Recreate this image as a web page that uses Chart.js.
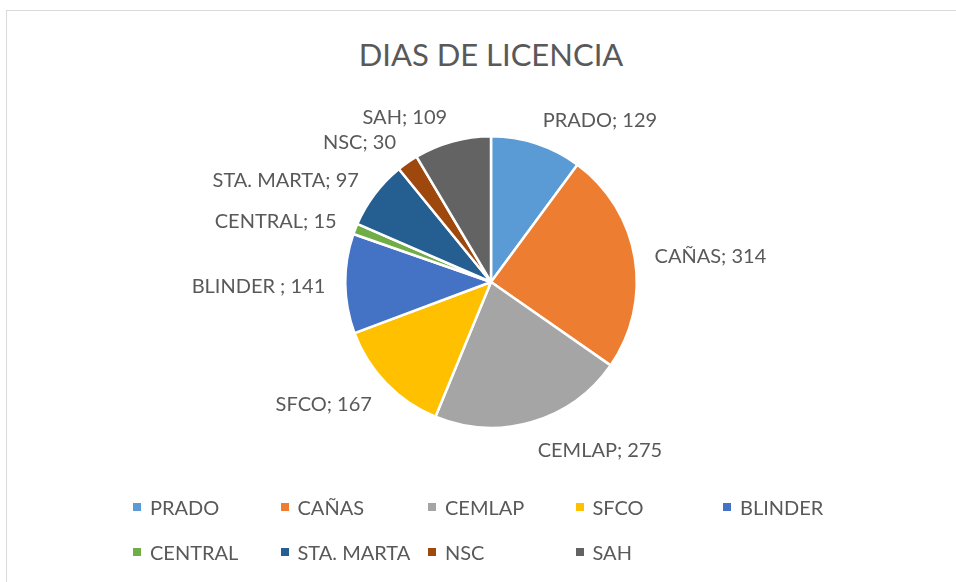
<!DOCTYPE html>
<html>
<head>
<meta charset="utf-8">
<script src="https://cdn.jsdelivr.net/npm/chart.js@4.4.1/dist/chart.umd.min.js"></script>
<style>
  html,body{margin:0;padding:0;background:#fff;}
  body{width:956px;height:582px;position:relative;overflow:hidden;font-family:Lato,"Liberation Sans",sans-serif;color:#595959;}
  #frame{position:absolute;left:6px;top:10px;width:1200px;height:1200px;border:1px solid #d9d9d9;box-sizing:border-box;}
  #title{position:absolute;left:0;top:33px;width:982px;text-align:center;font-size:31px;line-height:42px;color:#595959;}
  #wrap{position:absolute;left:0;top:0;width:956px;height:582px;}
  #legend{position:absolute;left:133px;top:494px;display:grid;grid-template-columns:repeat(5,147.5px);grid-auto-rows:45px;font-size:20px;}
  .li{display:flex;align-items:center;height:26px;white-space:nowrap;}
  .mk{width:8px;height:8px;margin-right:9px;flex:none;}
</style>
</head>
<body>
<div id="frame"></div>
<div id="title">DIAS DE LICENCIA</div>
<div id="wrap"><canvas id="c" width="956" height="582"></canvas></div>
<div id="legend"></div>
<script>
const categories = ["PRADO","CAÑAS","CEMLAP","SFCO","BLINDER ","CENTRAL","STA. MARTA","NSC","SAH"];
const legendNames = ["PRADO","CAÑAS","CEMLAP","SFCO","BLINDER","CENTRAL","STA. MARTA","NSC","SAH"];
const values = [129,314,275,167,141,15,97,30,109];
const colors = ["#5B9BD5","#ED7D31","#A5A5A5","#FFC000","#4472C4","#70AD47","#255E91","#9E480E","#636363"];

const labelPlugin = {
  id:'outsideLabels',
  afterDatasetsDraw(chart){
    const ctx = chart.ctx;
    const meta = chart.getDatasetMeta(0);
    ctx.save();
    ctx.font = '20px Lato, "Liberation Sans", sans-serif';
    ctx.fillStyle = '#595959';
    ctx.textBaseline = 'middle';
    meta.data.forEach((arc,i)=>{
      const p = arc.getProps(['x','y','startAngle','endAngle','outerRadius'],true);
      const mid = (p.startAngle+p.endAngle)/2;
      const r = p.outerRadius + 20;
      const cx = Math.cos(mid), sy = Math.sin(mid);
      const x = p.x + cx*r;
      const y = p.y + sy*r + sy*7 + 2.5;
      ctx.textAlign = cx >= 0 ? 'left' : 'right';
      ctx.fillText(categories[i] + '; ' + values[i], x, y);
    });
    ctx.restore();
  }
};

new Chart(document.getElementById('c'),{
  type:'pie',
  data:{labels:categories,datasets:[{data:values,backgroundColor:colors,borderColor:'#ffffff',borderWidth:2.5}]},
  options:{
    responsive:false,
    animation:false,
    layout:{padding:{top:135,bottom:153,left:200,right:174}},
    plugins:{legend:{display:false},title:{display:false},tooltip:{enabled:false}}
  },
  plugins:[labelPlugin]
});

const lg = document.getElementById('legend');
legendNames.forEach((n,i)=>{
  const d = document.createElement('div'); d.className='li';
  const m = document.createElement('span'); m.className='mk'; m.style.background = colors[i];
  const t = document.createElement('span'); t.textContent = n;
  d.appendChild(m); d.appendChild(t); lg.appendChild(d);
});
</script>
</body>
</html>
